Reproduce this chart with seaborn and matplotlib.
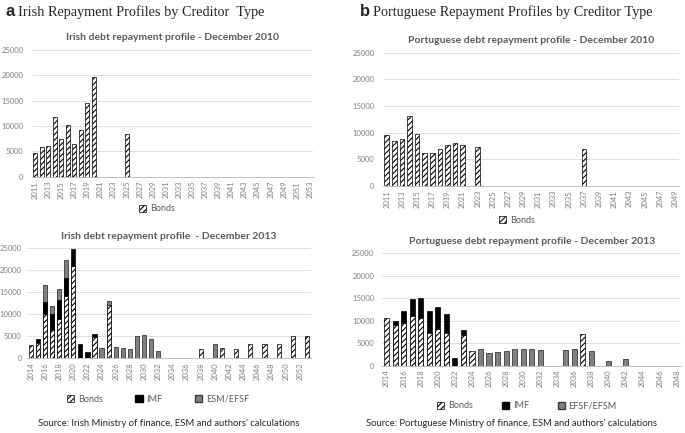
import matplotlib
matplotlib.use("Agg")
import matplotlib.pyplot as plt
from matplotlib.patches import Patch
import seaborn as sns
import pandas as pd

# Irish debt repayment profile - December 2010 (bonds only)
ie10_years = list(range(2011, 2054))
ie10_bond_years = [2011, 2012, 2013, 2014, 2015, 2016, 2017, 2018, 2019, 2020, 2025]
ie10_bonds = [4600, 5800, 6050, 11800, 7400, 10200, 6450, 9300, 14600, 19700, 8350]

# Irish debt repayment profile - December 2013
ie13_years = list(range(2014, 2054))
ie13_bonds = [3000, 3500, 10000, 6400, 9000, 14200, 20900, 0, 0, 4700,
              0, 12200, 0, 0, 0, 0, 0, 0, 0, 0,
              0, 0, 0, 0, 2050, 0, 0, 2200, 0, 2050,
              0, 3200, 0, 3200, 0, 3100, 0, 5100, 0, 5100]
ie13_imf = [0, 900, 2800, 3600, 4300, 4100, 3900, 3300, 1400, 900] + [0] * 30
ie13_esm = [0, 0, 3900, 1800, 2400, 4000, 0, 0, 0, 0,
            2300, 800, 2600, 2300, 2050, 5000, 5300, 4400, 1600, 0,
            0, 0, 0, 0, 0, 0, 3250, 0, 0, 0,
            0, 0, 0, 0, 0, 0, 0, 0, 0, 0]

# Portuguese debt repayment profile - December 2010 (bonds only)
pt10_years = list(range(2011, 2050))
pt10_bond_years = [2011, 2012, 2013, 2014, 2015, 2016, 2017, 2018, 2019, 2020, 2021, 2023, 2037]
pt10_bonds = [9500, 8500, 8700, 13200, 9700, 6100, 6100, 6950, 7650, 7950, 7600, 7250, 7000]

# Portuguese debt repayment profile - December 2013
pt13_years = list(range(2014, 2049))
pt13_bonds = [10700, 9100, 9550, 11000, 10600, 7300, 8200, 7250, 0, 6900,
              3300, 0, 0, 0, 0, 0, 0, 0, 0, 0,
              0, 0, 0, 7000, 0, 0, 0, 0, 0, 0,
              0, 0, 0, 0, 0]
pt13_imf = [0, 750, 2650, 3800, 4550, 4900, 4850, 4150, 1800, 1100] + [0] * 25
pt13_efsf = [0, 0, 0, 0, 0, 0, 0, 0, 0, 0,
             0, 3700, 2900, 3100, 3300, 3650, 3650, 3650, 3450, 0,
             0, 3500, 3600, 0, 3300, 0, 1100, 0, 1550, 0,
             0, 0, 0, 0, 0]

sns.set_theme(style="white")
plt.rcParams["font.family"] = ["Lato", "DejaVu Sans"]
plt.rcParams["hatch.linewidth"] = 0.8

GREY_TXT = "#7f7f7f"
BOND = dict(color="white", edgecolor="black", hatch="//////", linewidth=0.5)
IMF = dict(color="black", edgecolor="black", linewidth=0.5)
ESM = dict(color="#808080", edgecolor="#3a3a3a", linewidth=0.6)


def draw(ax, years, layers, title, ypad=6):
    labels = [str(y) for y in years]
    for values, style in layers:
        df = pd.DataFrame({"year": labels, "value": values})
        df = df[df["value"] > 0]
        sns.barplot(data=df, x="year", y="value", order=labels, ax=ax,
                    width=0.6, saturation=1, errorbar=None, **style)
    ax.set_xlabel("")
    ax.set_ylabel("")
    ax.set_ylim(0, 25000)
    ax.set_yticks(range(0, 25001, 5000))
    ax.set_xticks(range(0, len(labels), 2))
    ax.set_xticklabels(labels[::2], rotation=90)
    ax.tick_params(axis="both", labelsize=5.5, colors=GREY_TXT, length=0)
    ax.tick_params(axis="y", pad=ypad)
    ax.tick_params(axis="x", pad=3)
    ax.grid(axis="y", color="#d9d9d9", linewidth=0.6)
    ax.set_axisbelow(True)
    for s in ["top", "left", "right"]:
        ax.spines[s].set_visible(False)
    ax.spines["bottom"].set_color("#bfbfbf")
    ax.spines["bottom"].set_linewidth(0.7)
    ax.set_title(title, fontsize=7.5, fontweight="bold", color="#595959", pad=7)


def stacked(bonds, imf, other):
    t3 = [b + i + o if o > 0 else 0 for b, i, o in zip(bonds, imf, other)]
    t2 = [b + i if i > 0 else 0 for b, i in zip(bonds, imf)]
    return [(t3, ESM), (t2, IMF), (bonds, BOND)]


fig = plt.figure(figsize=(6.85, 4.33), dpi=100)

ax1 = fig.add_axes([0.0463, 0.592, 0.4111, 0.2926])
ie10_full = [ie10_bonds[ie10_bond_years.index(y)] if y in ie10_bond_years else 0 for y in ie10_years]
draw(ax1, ie10_years, [(ie10_full, BOND)], "Irish debt repayment profile - December 2010")

ax2 = fig.add_axes([0.0397, 0.173, 0.4136, 0.2533])
draw(ax2, ie13_years, stacked(ie13_bonds, ie13_imf, ie13_esm),
     "Irish debt repayment profile  - December 2013", ypad=4)

ax3 = fig.add_axes([0.559, 0.571, 0.432, 0.307])
pt10_full = [pt10_bonds[pt10_bond_years.index(y)] if y in pt10_bond_years else 0 for y in pt10_years]
draw(ax3, pt10_years, [(pt10_full, BOND)], "Portuguese debt repayment profile - December 2010")

ax4 = fig.add_axes([0.5582, 0.1555, 0.436, 0.2596])
draw(ax4, pt13_years, stacked(pt13_bonds, pt13_imf, pt13_efsf),
     "Portuguese debt repayment profile - December 2013")

h_bond = Patch(facecolor="white", edgecolor="black", hatch="//////", linewidth=0.5)
h_imf = Patch(facecolor="black", edgecolor="black")
h_esm = Patch(facecolor="#808080", edgecolor="#3a3a3a")
leg_kw = dict(loc="center", frameon=False, fontsize=6.5, handlelength=0.8, handleheight=0.8,
              handletextpad=0.4, labelcolor="#595959", ncol=3)

fig.legend([h_bond], ["Bonds"], bbox_to_anchor=(157 / 685, 1 - 209 / 433), **leg_kw)
fig.legend([h_bond, h_imf, h_esm], ["Bonds", "IMF", "ESM/EFSF"],
           bbox_to_anchor=(158 / 685, 1 - 399 / 433), columnspacing=3.6, **leg_kw)
fig.legend([h_bond], ["Bonds"], bbox_to_anchor=(517 / 685, 1 - 220 / 433), **leg_kw)
fig.legend([h_bond, h_imf, h_esm], ["Bonds", "IMF", "EFSF/EFSM"],
           bbox_to_anchor=(527 / 685, 1 - 406 / 433), columnspacing=3.2, **leg_kw)

# panel headings
fig.text(5 / 685, 1 - 12 / 433, "a", fontsize=12, fontweight="bold",
         family="Liberation Sans", va="center")
fig.text(18 / 685, 1 - 12 / 433, "Irish Repayment Profiles by Creditor  Type", fontsize=10.3,
         family="Liberation Serif", va="center")
fig.text(360 / 685, 1 - 12 / 433, "b", fontsize=12, fontweight="bold",
         family="Liberation Sans", va="center")
fig.text(373 / 685, 1 - 12 / 433, "Portuguese Repayment Profiles by Creditor Type", fontsize=10.3,
         family="Liberation Serif", va="center")

fig.text(169 / 685, 1 - 423 / 433, "Source: Irish Ministry of finance, ESM and authors\u2019 calculations",
         fontsize=6.8, color="#262626", ha="center", va="center")
fig.text(512 / 685, 1 - 423 / 433, "Source: Portuguese Ministry of finance, ESM and authors\u2019 calculations",
         fontsize=6.8, color="#262626", ha="center", va="center")

fig.savefig("out.png", dpi=100)
